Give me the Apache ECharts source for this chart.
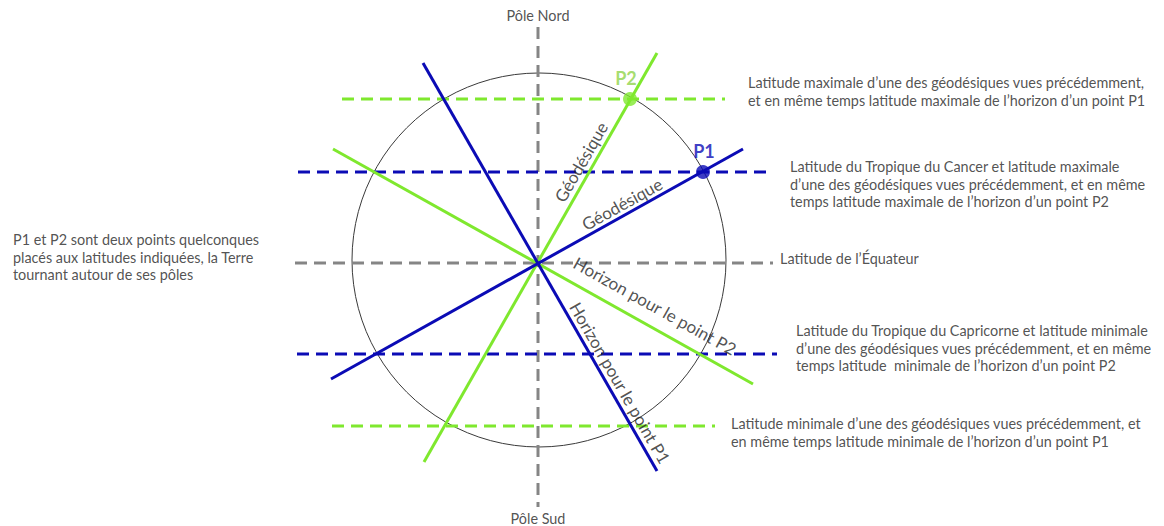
<!DOCTYPE html>
<html>
<head>
<meta charset="utf-8">
<script src="https://cdn.jsdelivr.net/npm/echarts@6/dist/echarts.min.js"></script>
<style>
html,body{margin:0;padding:0;background:#fff;}
#chart{width:1164px;height:526px;}
</style>
</head>
<body>
<div id="chart"></div>
<script>
// ---- Data (diagram units, origin = Earth's centre, y towards the North Pole) ----
const earth = [1, 3, 187];                       // centre x, centre y, radius
const poleAxis = [[0, 236], [0, -244]];
const equator = [[-243, 0], [235, 0]];
const latMaxGeoP1 = [[-196, 164], [187, 164]];   // green dashed, top
const tropicCancer = [[-240, 91], [229, 91]];    // blue dashed, top
const tropicCapricorn = [[-241, -91], [239, -91]]; // blue dashed, bottom
const latMinGeoP1 = [[-206, -163], [177, -163]]; // green dashed, bottom
const geodesicP2 = [[-114, -199], [119, 210]];   // green solid
const geodesicP1 = [[-207, -116], [205, 114]];   // blue solid
const horizonP2 = [[-205, 114], [215, -121]];    // green solid
const horizonP1 = [[-115, 200], [119, -208]];    // blue solid
const pointP1 = [165, 91];
const pointP2 = [92, 164];

const poleLabels = ['Pôle Nord', 'Pôle Sud'];
const lineLabels = ['Géodésique', 'Géodésique', 'Horizon pour le point P2', 'Horizon pour le point P1'];
const notes = [
  'Latitude maximale d\u2019une des géodésiques vues précédemment,\net en même temps latitude maximale de l\u2019horizon d\u2019un point P1',
  'Latitude du Tropique du Cancer et latitude maximale\nd\u2019une des géodésiques vues précédemment, et en même\ntemps latitude maximale de l\u2019horizon d\u2019un point P2',
  'Latitude de l\u2019Équateur',
  'Latitude du Tropique du Capricorne et latitude minimale\nd\u2019une des géodésiques vues précédemment, et en même\ntemps latitude  minimale de l\u2019horizon d\u2019un point P2',
  'Latitude minimale d\u2019une des géodésiques vues précédemment, et\nen même temps latitude minimale de l\u2019horizon d\u2019un point P1',
  'P1 et P2 sont deux points quelconques\nplacés aux latitudes indiquées, la Terre\ntournant autour de ses pôles'
];

// ---- Styles ----
const GREEN = '#7FE82E';
const GREEN_LABEL = '#8FD44A';
const BLUE = '#0B0BB5';
const GRAY = '#858585';
const TEXT = '#262626';
const FONT = 'Lato, "Open Sans", sans-serif';

function lineSeries(data, color, dashed, z) {
  return {
    type: 'line', data: data, symbol: 'none', silent: true, animation: false, z: z || 2,
    lineStyle: { color: color, width: 3, type: dashed ? [12, 7] : 'solid', cap: 'butt' }
  };
}

function textSeries(coord, text, opts) {
  return {
    type: 'scatter', data: [coord], symbolSize: 0, silent: true, animation: false, z: 10,
    label: Object.assign({
      show: true, formatter: text, color: TEXT, fontFamily: FONT, fontSize: 14.4,
      lineHeight: 17.5, position: 'right', distance: 0, align: 'left'
    }, opts || {})
  };
}

const option = {
  animation: false,
  grid: { left: 0, right: 0, top: 0, bottom: 0 },
  xAxis: { type: 'value', min: -538, max: 626, show: false },
  yAxis: { type: 'value', min: -263, max: 263, show: false },
  series: [
    {
      type: 'custom', silent: true, animation: false, z: 1,
      data: [earth],
      renderItem: function (params, api) {
        const c = api.coord([api.value(0), api.value(1)]);
        const r = api.size([api.value(2), 0])[0];
        return { type: 'circle', shape: { cx: c[0], cy: c[1], r: r },
          style: { fill: 'none', stroke: '#3a3a3a', lineWidth: 1 } };
      }
    },
    lineSeries(poleAxis, GRAY, true),
    lineSeries(equator, GRAY, true),
    lineSeries(latMaxGeoP1, GREEN, true),
    lineSeries(latMinGeoP1, GREEN, true),
    lineSeries(tropicCancer, BLUE, true),
    lineSeries(tropicCapricorn, BLUE, true),
    lineSeries(geodesicP2, GREEN, false, 3),
    lineSeries(horizonP2, GREEN, false, 3),
    lineSeries(horizonP1, BLUE, false, 4),
    lineSeries(geodesicP1, BLUE, false, 4),
    {
      type: 'scatter', silent: true, animation: false, z: 6, symbolSize: 14,
      data: [
        { value: pointP2, itemStyle: { color: GREEN },
          label: { show: true, formatter: 'P2', position: 'top', distance: 5, color: GREEN_LABEL,
            fontWeight: 'bold', fontSize: 18, fontFamily: FONT, offset: [-4, 0] } },
        { value: pointP1, itemStyle: { color: BLUE },
          label: { show: true, formatter: 'P1', position: 'top', distance: 5, color: BLUE,
            fontWeight: 'bold', fontSize: 18, fontFamily: FONT, offset: [1, 0] } }
      ]
    },
    textSeries([0, 248], poleLabels[0], { position: 'inside', align: 'center' }),
    textSeries([0, -255], poleLabels[1], { position: 'inside', align: 'center' }),
    textSeries([43, 101], lineLabels[0], { position: 'inside', align: 'center', rotate: 60, fontSize: 17 }),
    textSeries([84, 59], lineLabels[1], { position: 'inside', align: 'center', rotate: 29, fontSize: 17 }),
    textSeries([117, -43], lineLabels[2], { position: 'inside', align: 'center', rotate: -29, fontSize: 17 }),
    textSeries([82, -120], lineLabels[3], { position: 'inside', align: 'center', rotate: -60, fontSize: 17 }),
    textSeries([210, 171.5], notes[0]),
    textSeries([252, 79], notes[1]),
    textSeries([242, 5], notes[2]),
    textSeries([258, -85], notes[3]),
    textSeries([193, -169.5], notes[4]),
    textSeries([-525, 6], notes[5])
  ]
};

const chart = echarts.init(document.getElementById('chart'), null, { renderer: 'svg' });
chart.setOption(option);
</script>
</body>
</html>
